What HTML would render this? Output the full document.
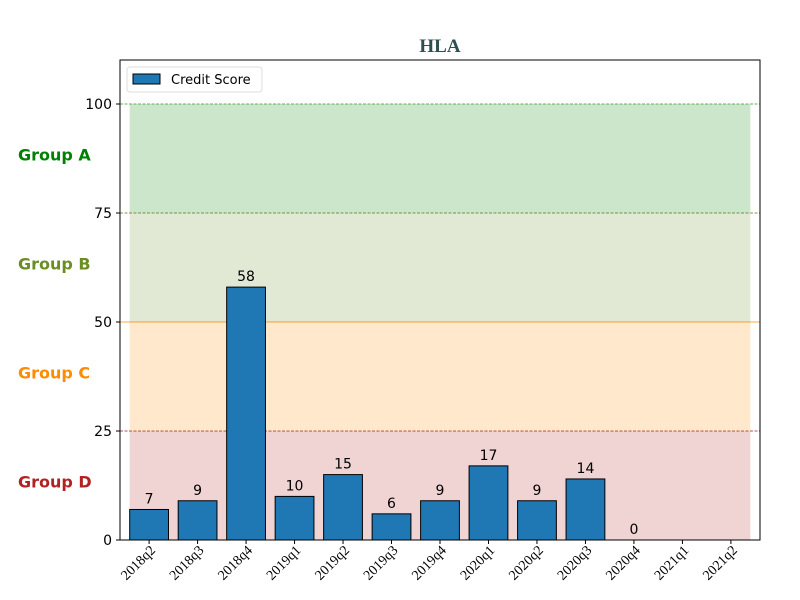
<!DOCTYPE html>
<html><head><meta charset="utf-8"><style>body{margin:0;background:#fff}svg{display:block}</style></head>
<body>
<svg id="chart" width="800" height="600" xmlns="http://www.w3.org/2000/svg" font-family="DejaVu Sans, sans-serif"></svg>
<script>
const categories=["2018q2","2018q3","2018q4","2019q1","2019q2","2019q3","2019q4","2020q1","2020q2","2020q3","2020q4","2021q1","2021q2"];
const values=[7,9,58,10,15,6,9,17,9,14,0,null,null];
const yTicks=[0,25,50,75,100];
const bandLows=[0,25,50,75];
const bandColors=["#b22222","#ff8c00","#6b8e23","#008000"];
const lineColors=["#8b2020","#ff8c00","#6b6b20","#2ca02c"];
const groupNames=["Group D","Group C","Group B","Group A"];
const groupColors=["#b22222","#ff8c00","#6b8e23","#008000"];
const L=120,R=760,T=60,B=540,YMAX=110.09,XMIN=-0.6,XMAX=12.6;
const xs=v=>L+(v-XMIN)/(XMAX-XMIN)*(R-L);
const ys=v=>B-v/YMAX*(B-T);
const svg=document.getElementById('chart');const NS="http://www.w3.org/2000/svg";
function mk(tag,attrs,parent){const e=document.createElementNS(NS,tag);for(const k in attrs)e.setAttribute(k,attrs[k]);(parent||svg).appendChild(e);return e;}
bandLows.forEach((lo,i)=>{
 const r=mk('rect',{x:xs(-0.4),y:ys(lo+25),width:xs(12.4)-xs(-0.4),height:ys(lo)-ys(lo+25),fill:bandColors[i],'fill-opacity':0.2});
 
 
 const ln=mk('line',{x1:L,x2:R,y1:ys(lo+25),y2:ys(lo+25),stroke:lineColors[i],'stroke-width':0.8,'stroke-dasharray':i==1?'none':'3,1.5'});
 
 
 const t=mk('text',{x:18,y:ys(lo+12.5)+2,fill:groupColors[i],'font-size':16,'font-weight':'bold'});
 t.textContent=groupNames[i];
 
 
});
categories.forEach((c,i)=>{
 const v=values[i];
 if(v!==null){
  const b=mk('rect',{x:xs(i-0.4),y:ys(v),width:xs(i+0.4)-xs(i-0.4),height:ys(0)-ys(v),fill:'#1f77b4',stroke:'#000','stroke-width':1});
  
  
  const t=mk('text',{x:xs(i),y:ys(v)-6,'text-anchor':'middle','font-size':14});
  t.textContent=v;
  
  
 }
 mk('line',{x1:xs(i),x2:xs(i),y1:B,y2:B+4,stroke:'#000'});
 const tl=mk('text',{transform:`translate(${xs(i)+7},${B+11}) rotate(-45)`,'text-anchor':'end','font-size':14,'font-family':'Liberation Serif, serif'});
 tl.textContent=c;
 
 
});
yTicks.forEach(v=>{
 mk('line',{x1:L-4,x2:L,y1:ys(v),y2:ys(v),stroke:'#000'});
 const t=mk('text',{x:L-8,y:ys(v)+5,'text-anchor':'end','font-size':14});
 t.textContent=v;
 
 
});
const ax=mk('rect',{x:L,y:T,width:R-L,height:B-T,fill:'none',stroke:'#000','stroke-width':1});


const title=mk('text',{x:440,y:52,'text-anchor':'middle','font-size':19,'font-weight':'bold','font-family':'Liberation Serif, serif',fill:'#2f4f4f'});
title.textContent='HLA';


const lg=mk('g',{});


mk('rect',{x:127,y:67,width:135,height:25,rx:3,fill:'#fff','fill-opacity':0.8,stroke:'#ddd'},lg);
mk('rect',{x:133,y:74,width:27,height:10,fill:'#1f77b4',stroke:'#000'},lg);
const lt=mk('text',{x:171,y:84,'font-size':13},lg);lt.textContent='Credit Score';
</script>
</body></html>
